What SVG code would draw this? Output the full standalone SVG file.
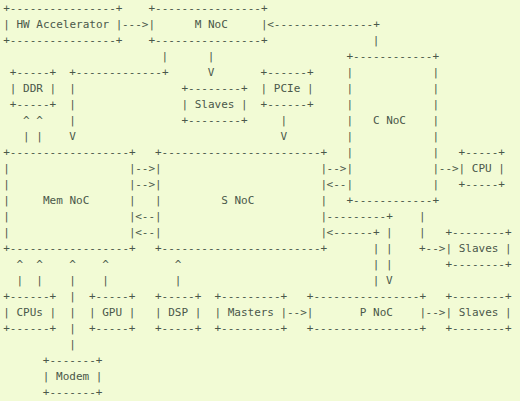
<svg xmlns="http://www.w3.org/2000/svg" width="520" height="401" viewBox="0 0 520 401" xml:space="preserve">
<style>
text { font-family: "DejaVu Sans Mono", "Liberation Mono", monospace; font-size: 11px; fill: #4a584a; white-space: pre; }
</style>
<rect x="0" y="0" width="520" height="401" fill="#f2fbd5"/>
<g id="hw-accelerator">
<text x="3.2" y="12">+----------------+</text>
<text x="3.2" y="28">| HW Accelerator |</text>
<text x="3.2" y="44">+----------------+</text>
</g>
<g id="m-noc">
<text x="148.4" y="12">+----------------+</text>
<text x="148.4" y="28">|      M NoC     |</text>
<text x="148.4" y="44">+----------------+</text>
</g>
<g id="ddr">
<text x="9.8" y="76">+-----+</text>
<text x="9.8" y="92">| DDR |</text>
<text x="9.8" y="108">+-----+</text>
</g>
<g id="slaves-m">
<text x="181.4" y="92">+--------+</text>
<text x="181.4" y="108">| Slaves |</text>
<text x="181.4" y="124">+--------+</text>
</g>
<g id="pcie">
<text x="260.6" y="76">+------+</text>
<text x="260.6" y="92">| PCIe |</text>
<text x="260.6" y="108">+------+</text>
</g>
<g id="c-noc">
<text x="346.4" y="60">+------------+</text>
<text x="346.4" y="76">|            |</text>
<text x="346.4" y="92">|            |</text>
<text x="346.4" y="108">|            |</text>
<text x="346.4" y="124">|   C NoC    |</text>
<text x="346.4" y="140">|            |</text>
<text x="346.4" y="156">|            |</text>
<text x="346.4" y="172">|            |</text>
<text x="346.4" y="188">|            |</text>
<text x="346.4" y="204">+------------+</text>
</g>
<g id="cpu">
<text x="458.6" y="156">+-----+</text>
<text x="458.6" y="172">| CPU |</text>
<text x="458.6" y="188">+-----+</text>
</g>
<g id="mem-noc">
<text x="3.2" y="156">+------------------+</text>
<text x="3.2" y="172">|                  |</text>
<text x="3.2" y="188">|                  |</text>
<text x="3.2" y="204">|     Mem NoC      |</text>
<text x="3.2" y="220">|                  |</text>
<text x="3.2" y="236">|                  |</text>
<text x="3.2" y="252">+------------------+</text>
</g>
<g id="s-noc">
<text x="155" y="156">+------------------------+</text>
<text x="155" y="172">|                        |</text>
<text x="155" y="188">|                        |</text>
<text x="155" y="204">|         S NoC          |</text>
<text x="155" y="220">|                        |</text>
<text x="155" y="236">|                        |</text>
<text x="155" y="252">+------------------------+</text>
</g>
<g id="slaves-c">
<text x="445.4" y="236">+--------+</text>
<text x="445.4" y="252">| Slaves |</text>
<text x="445.4" y="268">+--------+</text>
</g>
<g id="cpus">
<text x="3.2" y="300">+------+</text>
<text x="3.2" y="316">| CPUs |</text>
<text x="3.2" y="332">+------+</text>
</g>
<g id="gpu">
<text x="89" y="300">+-----+</text>
<text x="89" y="316">| GPU |</text>
<text x="89" y="332">+-----+</text>
</g>
<g id="dsp">
<text x="155" y="300">+-----+</text>
<text x="155" y="316">| DSP |</text>
<text x="155" y="332">+-----+</text>
</g>
<g id="masters">
<text x="214.4" y="300">+---------+</text>
<text x="214.4" y="316">| Masters |</text>
<text x="214.4" y="332">+---------+</text>
</g>
<g id="p-noc">
<text x="306.8" y="300">+----------------+</text>
<text x="306.8" y="316">|       P NoC    |</text>
<text x="306.8" y="332">+----------------+</text>
</g>
<g id="slaves-p">
<text x="445.4" y="300">+--------+</text>
<text x="445.4" y="316">| Slaves |</text>
<text x="445.4" y="332">+--------+</text>
</g>
<g id="modem">
<text x="42.8" y="364">+-------+</text>
<text x="42.8" y="380">| Modem |</text>
<text x="42.8" y="396">+-------+</text>
</g>
<g id="connectors">
<text x="122" y="28">---&gt;</text>
<text x="267.2" y="28">&lt;---------------+</text>
<text x="372.8" y="44">|</text>
<text x="161.6" y="60">|</text>
<text x="207.8" y="60">|</text>
<text x="69.2" y="76">+-------------+</text>
<text x="207.8" y="76">V</text>
<text x="69.2" y="92">|</text>
<text x="69.2" y="108">|</text>
<text x="69.2" y="124">|</text>
<text x="69.2" y="140">V</text>
<text x="23" y="124">^</text>
<text x="36.2" y="124">^</text>
<text x="23" y="140">|</text>
<text x="36.2" y="140">|</text>
<text x="280.4" y="124">|</text>
<text x="280.4" y="140">V</text>
<text x="135.2" y="172">--&gt;</text>
<text x="135.2" y="188">--&gt;</text>
<text x="135.2" y="220">&lt;--</text>
<text x="135.2" y="236">&lt;--</text>
<text x="326.6" y="172">--&gt;</text>
<text x="326.6" y="188">&lt;--</text>
<text x="438.8" y="172">--&gt;</text>
<text x="326.6" y="220">---------+</text>
<text x="326.6" y="236">&lt;------+</text>
<text x="386" y="236">|</text>
<text x="372.8" y="252">|</text>
<text x="386" y="252">|</text>
<text x="372.8" y="268">|</text>
<text x="386" y="268">|</text>
<text x="372.8" y="284">|</text>
<text x="386" y="284">V</text>
<text x="419" y="220">|</text>
<text x="419" y="236">|</text>
<text x="419" y="252">+--&gt;</text>
<text x="16.4" y="268">^</text>
<text x="36.2" y="268">^</text>
<text x="69.2" y="268">^</text>
<text x="102.2" y="268">^</text>
<text x="174.8" y="268">^</text>
<text x="16.4" y="284">|</text>
<text x="36.2" y="284">|</text>
<text x="69.2" y="284">|</text>
<text x="102.2" y="284">|</text>
<text x="174.8" y="284">|</text>
<text x="69.2" y="300">|</text>
<text x="69.2" y="316">|</text>
<text x="69.2" y="332">|</text>
<text x="69.2" y="348">|</text>
<text x="287" y="316">--&gt;</text>
<text x="425.6" y="316">--&gt;</text>
</g>
</svg>
